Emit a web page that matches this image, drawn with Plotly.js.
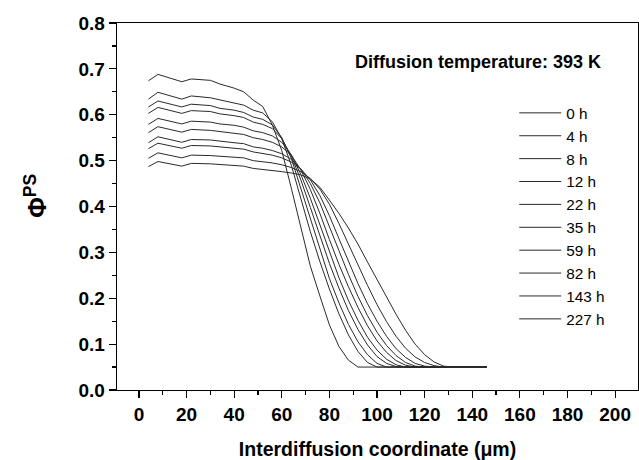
<!DOCTYPE html>
<html>
<head>
<meta charset="utf-8">
<script src="https://cdn.plot.ly/plotly-3.0.1.min.js"></script>
<style>html,body{margin:0;padding:0;background:#fff;}#chart{width:639px;height:460px;}</style>
</head>
<body>
<div id="chart"></div>
<script>
var xs = [4,8,18,22,30,34,40,44,48,52,56,60,64,68,72,76,80,84,88,92,96,100,104,108,112,116,120,124,128,132,146];
var labels = ["0 h","4 h","8 h","12 h","22 h","35 h","59 h","82 h","143 h","227 h"];
var h0   = [0.674,0.688,0.672,0.678,0.675,0.667,0.658,0.650,0.632,0.618,0.578,0.522,0.440,0.355,0.270,0.205,0.142,0.095,0.065,0.050,0.050,0.050,0.050,0.050,0.050,0.050,0.050,0.050,0.050,0.050,0.050];
var h4   = [0.634,0.649,0.634,0.641,0.637,0.632,0.626,0.621,0.610,0.604,0.585,0.548,0.490,0.418,0.345,0.280,0.220,0.166,0.120,0.084,0.060,0.050,0.050,0.050,0.050,0.050,0.050,0.050,0.050,0.050,0.050];
var h8   = [0.617,0.630,0.617,0.623,0.620,0.614,0.610,0.605,0.595,0.590,0.578,0.550,0.505,0.440,0.372,0.305,0.243,0.190,0.143,0.105,0.077,0.058,0.050,0.050,0.050,0.050,0.050,0.050,0.050,0.050,0.050];
var h12  = [0.603,0.616,0.603,0.609,0.607,0.602,0.598,0.594,0.584,0.579,0.570,0.548,0.510,0.458,0.398,0.336,0.276,0.222,0.173,0.132,0.098,0.073,0.058,0.051,0.050,0.050,0.050,0.050,0.050,0.050,0.050];
var h22  = [0.579,0.592,0.580,0.586,0.584,0.580,0.577,0.573,0.565,0.561,0.554,0.540,0.513,0.470,0.418,0.360,0.300,0.245,0.195,0.152,0.115,0.087,0.067,0.055,0.050,0.050,0.050,0.050,0.050,0.050,0.050];
var h35  = [0.561,0.574,0.562,0.568,0.566,0.563,0.560,0.557,0.550,0.546,0.540,0.530,0.512,0.480,0.437,0.385,0.328,0.274,0.225,0.180,0.140,0.107,0.082,0.064,0.054,0.050,0.050,0.050,0.050,0.050,0.050];
var h59  = [0.539,0.552,0.540,0.546,0.545,0.542,0.539,0.537,0.530,0.527,0.522,0.515,0.503,0.482,0.450,0.408,0.358,0.304,0.252,0.204,0.162,0.126,0.097,0.075,0.060,0.052,0.050,0.050,0.050,0.050,0.050];
var h82  = [0.526,0.538,0.527,0.533,0.532,0.530,0.527,0.525,0.519,0.516,0.512,0.506,0.497,0.482,0.458,0.424,0.380,0.330,0.280,0.232,0.188,0.150,0.117,0.090,0.071,0.058,0.052,0.050,0.050,0.050,0.050];
var h143 = [0.505,0.517,0.506,0.512,0.511,0.510,0.508,0.506,0.500,0.498,0.495,0.491,0.485,0.476,0.461,0.438,0.405,0.363,0.318,0.272,0.228,0.186,0.149,0.117,0.091,0.072,0.060,0.053,0.050,0.050,0.050];
var h227 = [0.487,0.498,0.488,0.494,0.493,0.492,0.490,0.488,0.483,0.481,0.479,0.476,0.473,0.469,0.460,0.442,0.414,0.385,0.353,0.318,0.279,0.240,0.202,0.165,0.130,0.100,0.077,0.061,0.052,0.050,0.050];
var series = [h0,h4,h8,h12,h22,h35,h59,h82,h143,h227];

var traces = series.map(function(ys, i){
  return {x: xs, y: ys, type: 'scatter', mode: 'lines', name: labels[i],
          line: {color: '#2a2a2a', width: 1}};
});

var FAM = 'Liberation Sans, Arial, sans-serif';
var tickFont = {family: FAM, size: 19, color: '#000', weight: 'bold'};

var layout = {
  width: 639, height: 460,
  margin: {l: 117, r: 1, t: 23, b: 70},
  paper_bgcolor: '#fff', plot_bgcolor: '#fff',
  showlegend: true,
  legend: {x: 0.7625, y: 0.80, xanchor: 'left', yanchor: 'top', itemwidth: 42,
           bgcolor: 'rgba(0,0,0,0)', borderwidth: 0,
           font: {family: FAM, size: 15.3, color: '#000'}},
  xaxis: {range: [-9.2, 209.6], dtick: 20, tick0: 0, ticks: 'outside', ticklen: 7, tickwidth: 1.2,
          tickcolor: '#000', showline: true, linecolor: '#000', linewidth: 1.3, mirror: true,
          showgrid: false, zeroline: false, tickfont: tickFont,
          minor: {dtick: 10, ticks: 'outside', ticklen: 4, tickwidth: 1.2, tickcolor: '#000', showgrid: false},
          title: {text: 'Interdiffusion coordinate (μm)', standoff: 18,
                  font: {family: FAM, size: 19.5, color: '#000', weight: 'bold'}}},
  yaxis: {range: [0, 0.8], dtick: 0.1, tick0: 0, tickformat: '.1f', ticks: 'outside', ticklen: 7, tickwidth: 1.2,
          tickcolor: '#000', showline: true, linecolor: '#000', linewidth: 1.3, mirror: true,
          showgrid: false, zeroline: false, tickfont: tickFont,
          minor: {dtick: 0.05, ticks: 'outside', ticklen: 4, tickwidth: 1.2, tickcolor: '#000', showgrid: false}},
  annotations: [
    {text: 'Diffusion temperature: 393 K', xref: 'paper', yref: 'paper', x: 0.692, y: 0.893,
     xanchor: 'center', yanchor: 'middle', showarrow: false,
     font: {family: FAM, size: 18, color: '#000', weight: 'bold'}},
    {text: 'Φ<sup>PS</sup>', xref: 'paper', yref: 'paper', x: -0.155, y: 0.53,
     xanchor: 'center', yanchor: 'middle', showarrow: false, textangle: -90,
     font: {family: FAM, size: 25, color: '#000', weight: 'bold'}}
  ]
};

Plotly.newPlot('chart', traces, layout, {displayModeBar: false, staticPlot: true});
</script>
</body>
</html>
